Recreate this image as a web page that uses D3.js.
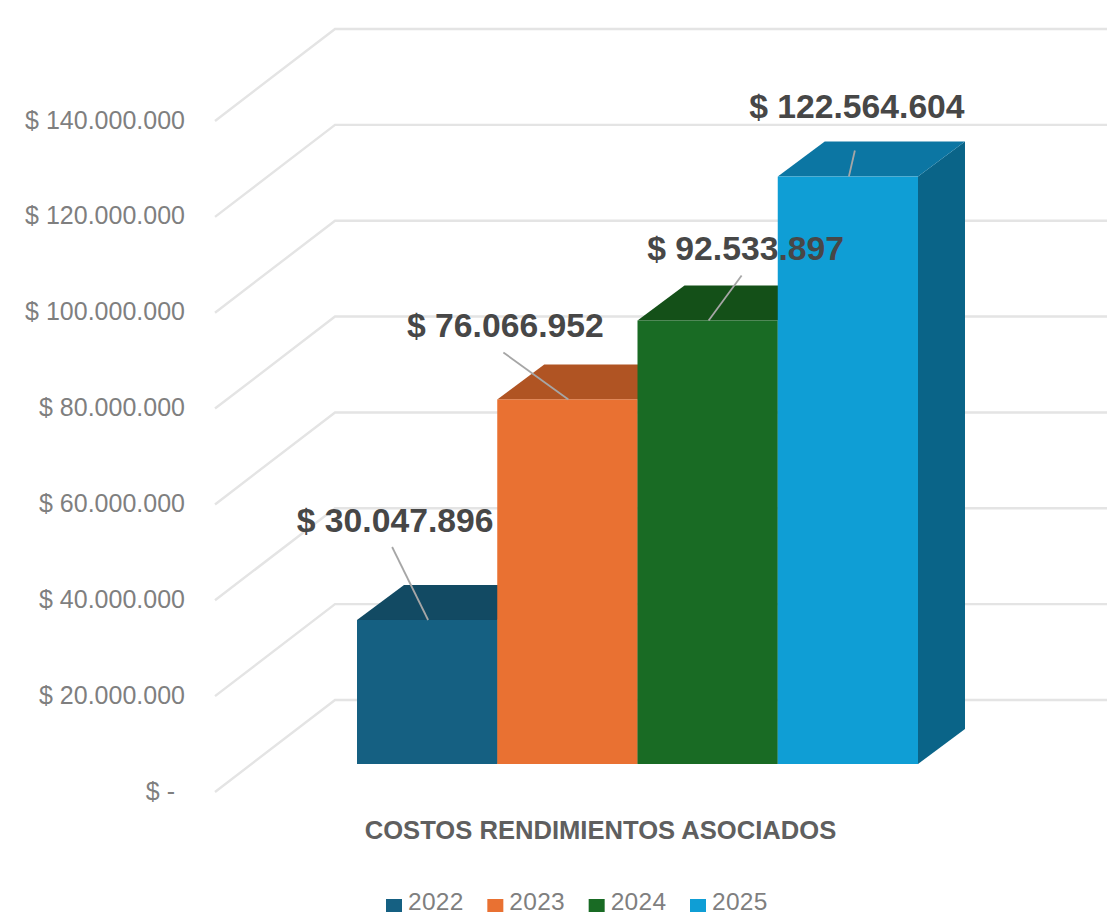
<!DOCTYPE html>
<html lang="es">
<head>
<meta charset="utf-8">
<title>Costos rendimientos asociados</title>
<script src="https://d3js.org/d3.v7.min.js"></script>
<style>
  html, body { margin: 0; background: #fff; }
  svg { display: block; font-family: "Liberation Sans", sans-serif; }
</style>
</head>
<body>
<script>
// data
var years = ["2022", "2023", "2024", "2025"];
var values = [30047896, 76066952, 92533897, 122564604];
var axisTicks = [0, 20000000, 40000000, 60000000, 80000000, 100000000, 120000000, 140000000];
var categoryLabel = "COSTOS RENDIMIENTOS ASOCIADOS";

var frontColors = ["#156082", "#E97132", "#196B24", "#0F9ED5"];
var topColors = ["#124A63", "#B05423", "#145018", "#0C76A3"];
var sideColors = ["#104A64", "#A9511F", "#134F1B", "#0A6488"];

// label position relative to the bar's top centre, then where its leader starts
var labelOffsets = [[-32, -100], [-62, -74], [38, -72], [9, -70]];
var leaderOffsets = [[-35, -73], [-64, -47], [34, -45], [7, -26]];

var width = 1107, height = 915;

var svg = d3.select("body").append("svg")
    .attr("width", width)
    .attr("height", height);

// value scale on the front edge of the floor
var y = d3.scaleLinear().domain([0, 140000000]).range([792, 121]);

// fake 3d: shift of the back wall and of the bars
var wallDx = 120, wallDy = -92;
var barDx = 47, barDy = -35;
var barBase = 764;

var x = d3.scaleBand().domain(years).range([357, 918]);

function barTop(v) { return barBase - (y(0) - y(v)); }

var locale = d3.formatLocale({ decimal: ",", thousands: ".", grouping: [3], currency: ["$", ""] });
var fmt = locale.format(",.0f");
function money(v) { return v === 0 ? "$ -\u2009\u2009" : "$ " + fmt(v); }

// gridlines: diagonal on the side wall, flat on the back wall
svg.append("g").selectAll("path")
    .data(axisTicks)
    .enter().append("path")
    .attr("d", function(d) {
        return d3.line()([
            [215, y(d)],
            [215 + wallDx, y(d) + wallDy],
            [width, y(d) + wallDy]
        ]);
    })
    .attr("fill", "none")
    .attr("stroke", "#E4E4E4")
    .attr("stroke-width", 2.4);

// value axis
var axis = svg.append("g")
    .attr("transform", "translate(185,-1)")
    .call(d3.axisLeft(y).tickValues(axisTicks).tickFormat(money).tickSize(0).tickPadding(0));
axis.select(".domain").remove();
axis.selectAll("text")
    .attr("font-family", "'Liberation Sans', sans-serif")
    .attr("font-size", 25)
    .attr("fill", "#7F7F7F");

// bars, left to right so each one covers the previous side face
var bars = svg.append("g").selectAll("g")
    .data(values)
    .enter().append("g");

bars.append("path") // side
    .attr("d", function(d, i) {
        var r = x(years[i]) + x.bandwidth(), t = barTop(d);
        return d3.line()([[r, t], [r + barDx, t + barDy], [r + barDx, barBase + barDy], [r, barBase]]) + "Z";
    })
    .attr("fill", function(d, i) { return sideColors[i]; });

bars.append("path") // top
    .attr("d", function(d, i) {
        var l = x(years[i]), r = l + x.bandwidth(), t = barTop(d);
        return d3.line()([[l, t], [l + barDx, t + barDy], [r + barDx, t + barDy], [r, t]]) + "Z";
    })
    .attr("fill", function(d, i) { return topColors[i]; });

bars.append("rect") // front
    .attr("x", function(d, i) { return x(years[i]); })
    .attr("y", function(d) { return barTop(d); })
    .attr("width", x.bandwidth())
    .attr("height", function(d) { return barBase - barTop(d); })
    .attr("fill", function(d, i) { return frontColors[i]; });

// leader lines
svg.append("g").selectAll("line")
    .data(values)
    .enter().append("line")
    .attr("x1", function(d, i) { return x(years[i]) + x.bandwidth() / 2 + 1; })
    .attr("y1", function(d) { return barTop(d); })
    .attr("x2", function(d, i) { return x(years[i]) + x.bandwidth() / 2 + leaderOffsets[i][0]; })
    .attr("y2", function(d, i) { return barTop(d) + leaderOffsets[i][1]; })
    .attr("stroke", "#A6A6A6")
    .attr("stroke-width", 1.8);

// data labels
svg.append("g").selectAll("text")
    .data(values)
    .enter().append("text")
    .attr("x", function(d, i) { return x(years[i]) + x.bandwidth() / 2 + labelOffsets[i][0]; })
    .attr("y", function(d, i) { return barTop(d) + labelOffsets[i][1]; })
    .attr("dy", "0.35em")
    .attr("text-anchor", "middle")
    .attr("font-size", 33.7)
    .attr("font-weight", "bold")
    .attr("fill", "#474747")
    .text(money);

// category label
svg.append("text")
    .attr("x", 600.5)
    .attr("y", 830)
    .attr("dy", "0.35em")
    .attr("text-anchor", "middle")
    .attr("font-size", 25.6)
    .attr("font-weight", "bold")
    .attr("fill", "#5F5F5F")
    .text(categoryLabel);

// legend
var legendX = d3.scalePoint().domain(years).range([386, 690]);
var legend = svg.append("g").selectAll("g")
    .data(years)
    .enter().append("g")
    .attr("transform", function(d) { return "translate(" + legendX(d) + ",899)"; });

legend.append("rect")
    .attr("width", 16)
    .attr("height", 13)
    .attr("fill", function(d, i) { return frontColors[i]; });

legend.append("text")
    .attr("x", 22)
    .attr("y", 10.8)
    .attr("font-size", 24.5)
    .attr("letter-spacing", 0.3)
    .attr("fill", "#7F7F7F")
    .text(function(d) { return d; });
</script>
</body>
</html>
